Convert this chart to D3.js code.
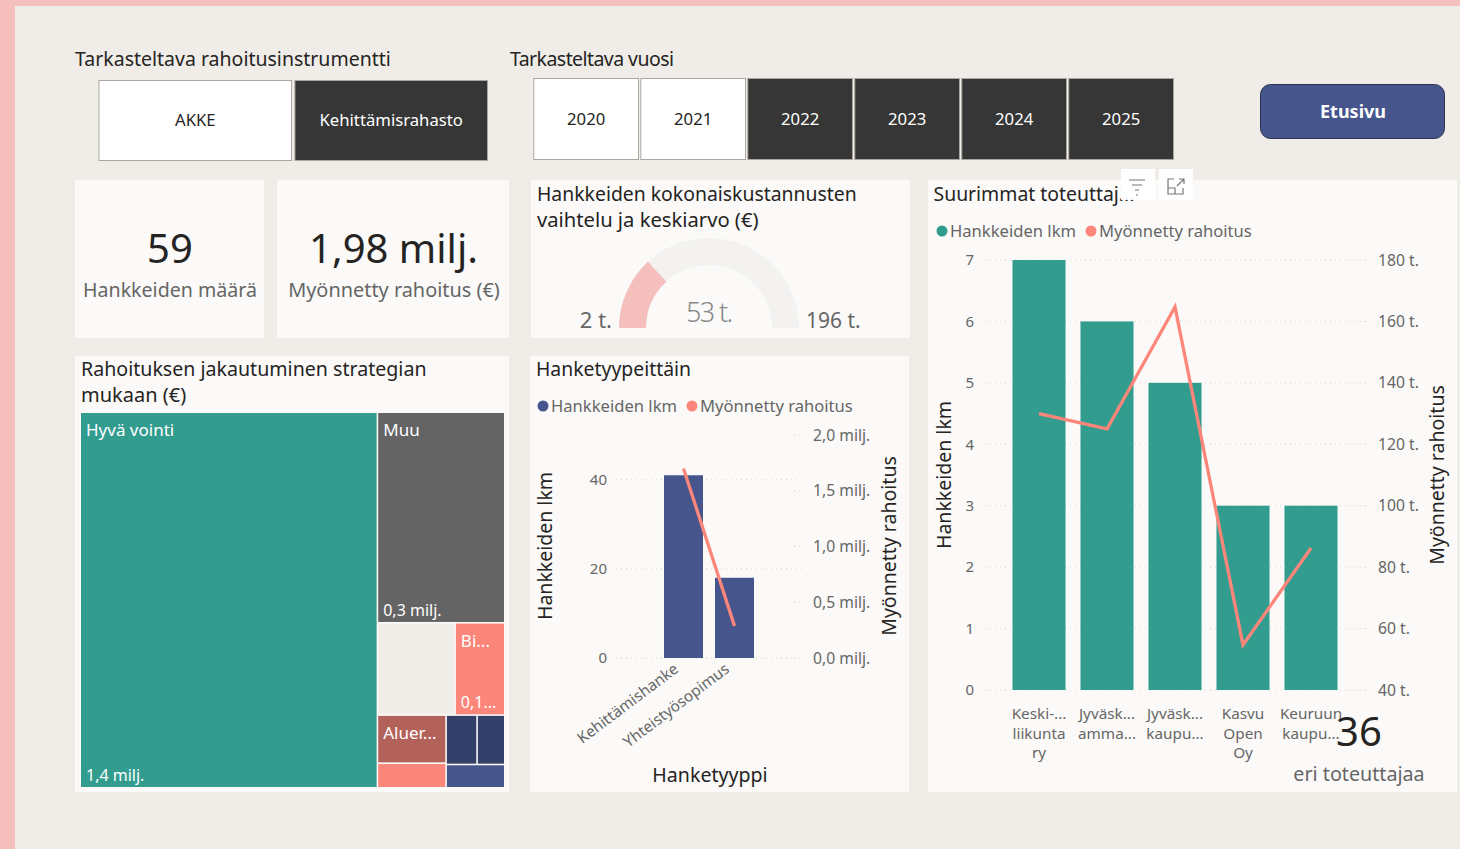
<!DOCTYPE html>
<html lang="fi">
<head>
<meta charset="UTF-8">
<title>Hankkeet</title>
<script src="https://cdn.jsdelivr.net/npm/d3@7"></script>
<style>
    body { margin: 0; background: #f0ede8; }
    svg { display: block; }
    text { font-family: "Noto Sans", sans-serif; }
    .axis .domain { display: none; }
    .axis text { fill: #666; font-family: "Noto Sans", sans-serif; }
</style>
</head>
<body>
<script>
    // data
    var instruments = ['AKKE', 'Kehittämisrahasto']
    var instrumentsSelected = ['AKKE']
    var years = ['2020', '2021', '2022', '2023', '2024', '2025']
    var yearsSelected = ['2020', '2021']

    var treemapNames = ['Hyvä vointi', 'Muu', '', 'Bi...', 'Aluer...', '', '', '', '']
    var treemapGroups = ['a', 'b', 'c', 'd', 'e', 'e', 'f', 'f', 'f']
    var treemapValues = [1386, 333, 89, 57, 41, 21, 19, 17, 17]
    var treemapLabels = ['1,4 milj.', '0,3 milj.', '', '0,1...', '', '', '', '', '']
    var treemapColors = ['#329c8f', '#646464', '#f0ede8', '#fd867a', '#b3625a', '#fd867a', '#343f6a', '#343f6a', '#46568d']

    var gaugeMin = 2
    var gaugeMax = 196
    var gaugeValue = 53

    var typeCategories = ['Kehittämishanke', 'Yhteistyösopimus']
    var typeCounts = [41, 18]
    var typeFunding = [1.70, 0.287]
    var typeCountTicks = [0, 20, 40]
    var typeFundingTicks = [0, 0.5, 1, 1.5, 2]

    var topCategories = ['Keski-...|liikunta|ry', 'Jyväsk...|amma...', 'Jyväsk...|kaupu...', 'Kasvu|Open|Oy', 'Keuruun|kaupu...']
    var topCounts = [7, 6, 5, 3, 3]
    var topFunding = [130, 125, 164.7, 54.7, 86.2]
    var topCountTicks = [0, 1, 2, 3, 4, 5, 6, 7]
    var topFundingTicks = [40, 60, 80, 100, 120, 140, 160, 180]

    var dark = '#252423', grey = '#666', card = '#fbfaf8', teal = '#329c8f', coral = '#fd867a', blue = '#46568d'

    var svg = d3.select('body').append('svg')
        .attr('width', 1460)
        .attr('height', 849)

    function rect(x, y, w, h, fill) {
        return svg.append('rect').attr('x', x).attr('y', y).attr('width', w).attr('height', h).attr('fill', fill)
    }
    function label(x, y, str, size, color, anchor) {
        return svg.append('text').attr('x', x).attr('y', y).text(str)
            .attr('font-size', size).attr('fill', color).attr('text-anchor', anchor || 'start')
    }
    function legend(x, y, color1, color2, x2) {
        svg.append('circle').attr('cx', x).attr('cy', y - 6).attr('r', 5.5).attr('fill', color1)
        label(x + 8, y, 'Hankkeiden lkm', 16.6, grey)
        svg.append('circle').attr('cx', x2).attr('cy', y - 6).attr('r', 5.5).attr('fill', color2)
        label(x2 + 8, y, 'Myönnetty rahoitus', 16.6, grey)
    }
    function yTitle(x, y, str) {
        label(0, 0, str, 19.5, dark, 'middle').attr('transform', `translate(${x}, ${y}) rotate(-90)`)
    }

    // page frame
    rect(0, 0, 1460, 6, '#f5bfbd')
    rect(0, 0, 15, 849, '#f5bfbd')

    // slicers
    label(75, 66, 'Tarkasteltava rahoitusinstrumentti', 19.5, dark)
    label(510, 66, 'Tarkasteltava vuosi', 19.5, dark).attr('textLength', 164)

    function slicer(items, selected, x0, x1, y, h, ty) {
        var xs = d3.scaleBand().domain(items).range([x0, x1]).paddingInner(0.012)
        var g = svg.append('g').selectAll('g').data(items).enter().append('g')
        g.append('rect')
            .attr('x', d => xs(d) + 0.5)
            .attr('y', y + 0.5)
            .attr('width', xs.bandwidth() - 1)
            .attr('height', h - 1)
            .attr('fill', d => selected.includes(d) ? '#fff' : '#363636')
            .attr('stroke', '#aaa6a0')
        g.append('text')
            .attr('x', d => xs(d) + xs.bandwidth() / 2)
            .attr('y', ty)
            .attr('text-anchor', 'middle')
            .attr('font-size', 16.7)
            .attr('fill', d => selected.includes(d) ? dark : '#fff')
            .text(d => d)
    }
    slicer(instruments, instrumentsSelected, 98.5, 488, 80, 81, 126)
    slicer(years, yearsSelected, 533.3, 1174, 78, 82, 125)

    // front page button
    rect(1260.5, 84.5, 184, 54, blue).attr('rx', 10).attr('stroke', '#2b3350')
    label(1353, 118, 'Etusivu', 18, '#fff', 'middle').attr('font-weight', 700)

    // cards
    rect(75, 180, 189, 158, card)
    rect(277, 180, 232, 158, card)
    rect(531, 180, 379, 158, card)
    rect(928, 180, 529, 612, card)
    rect(75, 356, 434, 436, card)
    rect(530, 356, 379, 436, card)

    // KPI cards
    label(170, 263, '59', 40, dark, 'middle')
    label(170, 297, 'Hankkeiden määrä', 19.6, grey, 'middle')
    label(393.5, 263, '1,98 milj.', 40, dark, 'middle')
    label(394, 297, 'Myönnetty rahoitus (€)', 19.9, grey, 'middle')

    // gauge
    label(537, 201, 'Hankkeiden kokonaiskustannusten', 19.4, dark)
    label(537, 227, 'vaihtelu ja keskiarvo (€)', 20.2, dark)
    var gaugeAngle = d3.scaleLinear().domain([gaugeMin, gaugeMax]).range([-Math.PI / 2, Math.PI / 2])
    var gaugeArc = d3.arc().innerRadius(63).outerRadius(90)
    var gauge = svg.append('g').attr('transform', 'translate(709, 328)')
    gauge.append('path')
        .attr('d', gaugeArc({startAngle: gaugeAngle(gaugeMin), endAngle: gaugeAngle(gaugeMax)}))
        .attr('fill', '#f3f2f1')
    gauge.append('path')
        .attr('d', gaugeArc({startAngle: gaugeAngle(gaugeMin), endAngle: gaugeAngle(gaugeValue)}))
        .attr('fill', '#f5bfbd')
    label(612, 328, gaugeMin + ' t.', 22, grey, 'end')
    label(806, 328, gaugeMax + ' t.', 21, grey)
    label(709.5, 322, gaugeValue + ' t.', 27, '#888', 'middle').attr('font-weight', 300).attr('textLength', 47)

    // treemap
    label(81, 376, 'Rahoituksen jakautuminen strategian', 19.6, dark)
    label(81, 402, 'mukaan (€)', 20, dark)

    var rows = treemapValues.map((v, i) => ({
        name: treemapNames[i], group: treemapGroups[i], value: v, text: treemapLabels[i], color: treemapColors[i]
    }))
    // keep the data order, the visual does not sort the small tiles by size
    var root = d3.hierarchy({children: d3.groups(rows, d => d.group).map(g => ({children: g[1]}))})
        .sum(d => d.value || 0)
    d3.treemap().tile(d3.treemapSquarify.ratio(1)).size([423, 374]).paddingInner(1.6).round(false)(root)

    var leaf = svg.append('g').attr('transform', 'translate(81, 413)')
        .selectAll('g').data(root.leaves()).enter().append('g')
        .attr('transform', d => `translate(${d.x0}, ${d.y0})`)
    leaf.append('rect')
        .attr('width', d => d.x1 - d.x0)
        .attr('height', d => d.y1 - d.y0)
        .attr('fill', d => d.data.color)
    leaf.append('text')
        .attr('x', 5).attr('y', 23)
        .attr('font-size', 17).attr('fill', '#fff')
        .text(d => d.data.name)
    leaf.append('text')
        .attr('x', 5).attr('y', d => d.y1 - d.y0 - 6)
        .attr('font-size', 16).attr('fill', '#fff')
        .text(d => d.data.text)

    // combo chart, shared by the two panels
    function combo(o) {
        var x = d3.scaleBand().domain(o.categories).range(o.xRange).paddingInner(o.pad).paddingOuter(o.pad / 2)
        var yL = d3.scaleLinear().domain(o.yDomain).range(o.yRange)
        var yR = d3.scaleLinear().domain(o.y2Domain).range(o.y2Range)
        var rows = o.categories.map((c, i) => ({c: c, count: o.counts[i], funding: o.funding[i]}))

        var left = svg.append('g').attr('class', 'axis')
            .attr('transform', `translate(${o.gridLeft}, 0)`)
            .call(d3.axisLeft(yL).tickValues(o.countTicks).tickSize(0).tickPadding(o.padLeft).tickFormat(d3.format('d')))
        left.selectAll('text').attr('font-size', 15)
        svg.append('g').selectAll('line').data(o.countTicks).enter().append('line')
            .attr('x1', o.gridLeft).attr('x2', o.gridRight)
            .attr('y1', d => yL(d)).attr('y2', d => yL(d))
            .attr('stroke', '#d8d6d3').attr('stroke-dasharray', '1 4')

        var right = svg.append('g').attr('class', 'axis')
            .attr('transform', `translate(${o.gridRight}, 0)`)
            .call(d3.axisRight(yR).tickValues(o.fundingTicks).tickSize(0).tickPadding(o.padRight).tickFormat(o.fundingFormat))
        right.selectAll('text').attr('font-size', 15.7)
        svg.append('g').selectAll('line').data(o.fundingTicks).enter().append('line')
            .attr('x1', o.gridRight - 8).attr('x2', o.gridRight)
            .attr('y1', d => yR(d)).attr('y2', d => yR(d))
            .attr('stroke', '#d8d6d3').attr('stroke-dasharray', '1 4')

        svg.append('g').selectAll('rect').data(rows).enter().append('rect')
            .attr('x', d => x(d.c))
            .attr('y', d => yL(d.count))
            .attr('width', x.bandwidth())
            .attr('height', d => yL(0) - yL(d.count))
            .attr('fill', o.color)

        var line = d3.line().x(d => x(d.c) + x.bandwidth() / 2).y(d => yR(d.funding))
        svg.append('path').datum(rows)
            .attr('d', line)
            .attr('fill', 'none')
            .attr('stroke', coral)
            .attr('stroke-width', 3.3)

        return x
    }

    // project type
    label(536, 376, 'Hanketyypeittäin', 19.4, dark)
    legend(543, 412, blue, coral, 692)
    var typeX = combo({
        categories: typeCategories, counts: typeCounts, funding: typeFunding, color: blue,
        countTicks: typeCountTicks, fundingTicks: typeFundingTicks,
        fundingFormat: d => d.toFixed(1).replace('.', ',') + ' milj.',
        xRange: [658, 760], pad: 0.235,
        yDomain: [0, 40], yRange: [658, 479.7],
        y2Domain: [0, 2], y2Range: [658, 435],
        gridLeft: 616, gridRight: 802, padLeft: 9, padRight: 11
    })
    svg.append('g').attr('class', 'axis')
        .attr('transform', 'translate(0, 658)')
        .call(d3.axisBottom(typeX).tickSize(0).tickPadding(0))
        .selectAll('text')
        .attr('font-size', 15.4)
        .attr('text-anchor', 'end')
        .attr('dy', 0)
        .attr('transform', 'translate(-4, 13) rotate(-37)')
    yTitle(552, 546, 'Hankkeiden lkm')
    yTitle(896, 546, 'Myönnetty rahoitus')
    label(710, 782, 'Hanketyyppi', 19.6, dark, 'middle')

    // largest implementers
    label(933.5, 201, 'Suurimmat toteuttaj...', 19.4, dark)
    legend(942, 237, teal, coral, 1091)
    var topX = combo({
        categories: topCategories, counts: topCounts, funding: topFunding, color: teal,
        countTicks: topCountTicks, fundingTicks: topFundingTicks,
        fundingFormat: d => d + ' t.',
        xRange: [1005, 1345], pad: 0.22,
        yDomain: [0, 7], yRange: [690, 260],
        y2Domain: [40, 180], y2Range: [690, 260],
        gridLeft: 985, gridRight: 1366, padLeft: 11, padRight: 12
    })
    var topAxis = svg.append('g').attr('class', 'axis')
        .attr('transform', 'translate(0, 690)')
        .call(d3.axisBottom(topX).tickSize(0).tickFormat(''))
    topAxis.selectAll('.tick text').each(function (d) {
        var t = d3.select(this).attr('font-size', 15.3).attr('dy', 0)
        d.split('|').forEach((s, i) => {
            t.append('tspan').attr('x', 0).attr('y', 29 + i * 19.5).text(s)
        })
    })
    yTitle(951, 475, 'Hankkeiden lkm')
    yTitle(1444, 475, 'Myönnetty rahoitus')

    label(1359, 746, '36', 40, dark, 'middle')
    label(1359, 781, 'eri toteuttajaa', 19.7, grey, 'middle')

    // visual header icons
    rect(1121, 169, 34, 31, '#fff').attr('fill-opacity', 0.92)
    rect(1159, 169, 34, 31, '#fff').attr('fill-opacity', 0.92)
    var icons = svg.append('g').attr('fill', 'none').attr('stroke', '#777').attr('stroke-width', 1.2)
    icons.append('path').attr('d', 'M1129 180H1145M1132 185H1142M1135 190H1139M1136 195H1138')
    icons.append('path').attr('d', 'M1174 179H1168V194H1183V188M1168 188H1175V194M1177 186L1184 179M1179 179H1184V184')
</script>
</body>
</html>
